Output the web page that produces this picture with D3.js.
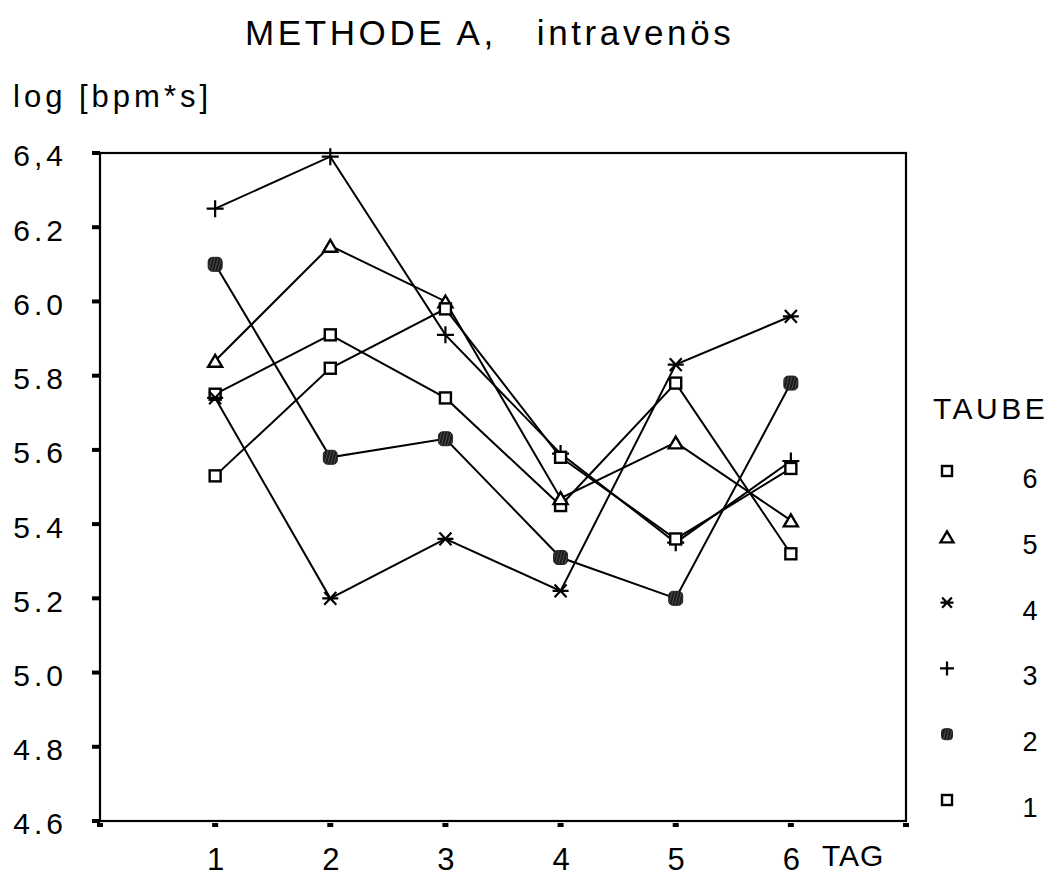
<!DOCTYPE html>
<html>
<head>
<meta charset="utf-8">
<script src="https://cdn.jsdelivr.net/npm/d3@7"></script>
<style>
  body { margin: 0; background: #fff; }
  text { font-family: "Liberation Sans", Arial, sans-serif; fill: #000; }
</style>
</head>
<body>
<div id="chart"></div>
<script>
// --- DATA ---
const days = [1, 2, 3, 4, 5, 6];
const yTicks = [4.6, 4.8, 5.0, 5.2, 5.4, 5.6, 5.8, 6.0, 6.2, 6.4];
const yTickLabels = ["4.6", "4.8", "5.0", "5.2", "5.4", "5.6", "5.8", "6.0", "6.2", "6,4"];
const taubeNames = ["6", "5", "4", "3", "2", "1"];
const taubeSymbols = ["square", "triangle", "asterisk", "plus", "filled", "square"];
const taube6 = [5.75, 5.91, 5.74, 5.45, 5.78, 5.32];
const taube5 = [5.84, 6.15, 6.00, 5.47, 5.62, 5.41];
const taube4 = [5.74, 5.20, 5.36, 5.22, 5.83, 5.96];
const taube3 = [6.25, 6.39, 5.91, 5.59, 5.35, 5.57];
const taube2 = [6.10, 5.58, 5.63, 5.31, 5.20, 5.78];
const taube1 = [5.53, 5.82, 5.98, 5.58, 5.36, 5.55];
const seriesValues = [taube6, taube5, taube4, taube3, taube2, taube1];

// --- LAYOUT ---
const W = 1054, H = 877;
const plot = { left: 100, right: 906, top: 153, bottom: 821 };

const svg = d3.select("#chart").append("svg")
  .attr("width", W).attr("height", H);

// hatch pattern for the filled marker
const defs = svg.append("defs");
const pat = defs.append("pattern")
  .attr("id", "hatch").attr("patternUnits", "userSpaceOnUse")
  .attr("width", 3).attr("height", 3)
  .attr("patternTransform", "rotate(15)");
pat.append("rect").attr("width", 3).attr("height", 3).attr("fill", "#1a1a1a");
pat.append("line").attr("x1", 1.5).attr("y1", 0).attr("x2", 1.5).attr("y2", 3)
  .attr("stroke", "#5a5a5a").attr("stroke-width", 0.8);

const x = d3.scaleLinear().domain([0, 7]).range([plot.left, plot.right]);
const y = d3.scaleLinear().domain([4.6, 6.4]).range([plot.bottom, plot.top]);

// frame
svg.append("rect")
  .attr("x", plot.left).attr("y", plot.top)
  .attr("width", plot.right - plot.left).attr("height", plot.bottom - plot.top)
  .attr("fill", "none").attr("stroke", "#000").attr("stroke-width", 2.2);

// y axis: small block ticks + labels
const yAxis = d3.axisLeft(y).tickValues(yTicks).tickSize(0)
  .tickFormat((d, i) => yTickLabels[i]).tickPadding(33);
const gy = svg.append("g").attr("transform", `translate(${plot.left},0)`).call(yAxis);
gy.select(".domain").remove();
gy.selectAll("text").style("font-size", "30px").style("letter-spacing", "4px")
  .attr("dy", "0.43em");
svg.selectAll("rect.ytick").data(yTicks).enter().append("rect")
  .attr("class", "ytick")
  .attr("x", plot.left - 8).attr("y", d => y(d) - 2)
  .attr("width", 8).attr("height", 4).attr("fill", "#000");

// x axis
const xAxis = d3.axisBottom(x).tickValues(days).tickSize(0)
  .tickFormat(d3.format("d")).tickPadding(49);
const gx = svg.append("g").attr("transform", `translate(0,${plot.bottom})`).call(xAxis);
gx.select(".domain").remove();
gx.selectAll("text").style("font-size", "31px").attr("dy", "0");
svg.selectAll("rect.xtick").data([0, 1, 2, 3, 4, 5, 6, 7]).enter().append("rect")
  .attr("class", "xtick")
  .attr("x", d => x(d) - 3).attr("y", plot.bottom + 2)
  .attr("width", 6).attr("height", 4).attr("fill", "#000");

// titles
svg.append("text").attr("x", 245).attr("y", 45)
  .style("font-size", "35px").style("letter-spacing", "3.6px")
  .attr("xml:space", "preserve")
  .text("METHODE A,   intravenös");
svg.append("text").attr("x", 13).attr("y", 107)
  .style("font-size", "31px").style("letter-spacing", "4px")
  .text("log [bpm*s]");
svg.append("text").attr("x", 822).attr("y", 866)
  .style("font-size", "30px").style("letter-spacing", "1px")
  .text("TAG");

// --- markers ---
function drawMarker(g, type, cx, cy, s) {
  if (type === "square") {
    g.append("rect").attr("x", cx - s / 2).attr("y", cy - s / 2)
      .attr("width", s).attr("height", s)
      .attr("fill", "#fff").attr("stroke", "#000").attr("stroke-width", 2.4);
  } else if (type === "triangle") {
    const h = s * 0.85;
    g.append("path")
      .attr("d", `M${cx},${cy - h / 2}L${cx + s / 2},${cy + h / 2}L${cx - s / 2},${cy + h / 2}Z`)
      .attr("fill", "#fff").attr("stroke", "#000").attr("stroke-width", 2.4);
  } else if (type === "plus") {
    g.append("path")
      .attr("d", `M${cx - s / 2},${cy}H${cx + s / 2}M${cx},${cy - s / 2}V${cy + s / 2}`)
      .attr("stroke", "#000").attr("stroke-width", 2.2);
  } else if (type === "asterisk") {
    const a = s / 2;
    g.append("path")
      .attr("d", `M${cx - a},${cy}H${cx + a}M${cx - a * 0.75},${cy - a * 0.8}L${cx + a * 0.75},${cy + a * 0.8}M${cx - a * 0.75},${cy + a * 0.8}L${cx + a * 0.75},${cy - a * 0.8}`)
      .attr("stroke", "#000").attr("stroke-width", 2.2);
  } else if (type === "filled") {
    g.append("rect").attr("x", cx - s / 2).attr("y", cy - s / 2)
      .attr("width", s).attr("height", s).attr("rx", s * 0.3)
      .attr("fill", "url(#hatch)").attr("stroke", "#222").attr("stroke-width", 1);
  }
}
const markerSize = { square: 11, triangle: 14, plus: 17, asterisk: 16, filled: 14 };

const line = d3.line().x((d, i) => x(days[i])).y(d => y(d));
const gLines = svg.append("g");
seriesValues.forEach(vals => {
  gLines.append("path").datum(vals)
    .attr("fill", "none").attr("stroke", "#000").attr("stroke-width", 2)
    .attr("d", line);
});
const gMarks = svg.append("g");
seriesValues.forEach((vals, si) => {
  const t = taubeSymbols[si];
  vals.forEach((v, i) => drawMarker(gMarks, t, x(days[i]), y(v), markerSize[t]));
});

// --- legend ---
svg.append("text").attr("x", 933).attr("y", 419)
  .style("font-size", "30px").style("letter-spacing", "3.5px")
  .text("TAUBE");
const legendY = d3.scalePoint().domain(taubeNames).range([479, 808]);
const legendSize = { square: 10, triangle: 13, plus: 14, asterisk: 13, filled: 11 };
taubeNames.forEach((name, i) => {
  const t = taubeSymbols[i];
  const cy = legendY(name);
  drawMarker(svg, t, 947, cy - 8, legendSize[t]);
  svg.append("text").attr("x", 1030).attr("y", cy + 9)
    .attr("text-anchor", "middle").style("font-size", "27px").text(name);
});
</script>
</body>
</html>
